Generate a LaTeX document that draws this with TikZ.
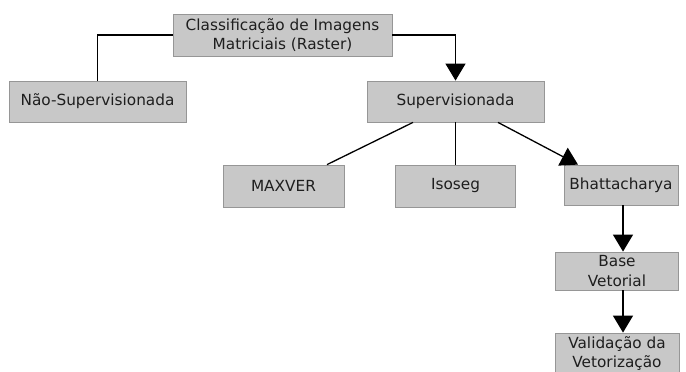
\documentclass[tikz,border=0pt]{standalone}
\usepackage{fontspec}
\setmainfont{DejaVu Sans}
\usetikzlibrary{arrows.meta}
\definecolor{boxfill}{RGB}{200,200,200}
\definecolor{boxline}{RGB}{150,150,150}
\definecolor{txt}{RGB}{30,30,30}
\tikzset{
  box/.style={fill=boxfill, draw=boxline, line width=0.8pt, inner sep=0pt,
    text=txt, align=center, font=\fontsize{15.3}{19.5}\selectfont},
  link/.style={line width=1.3pt, draw=black},
  arr/.style={link, -{Triangle[width=20pt,length=17pt]}}
}
\begin{document}
\begin{tikzpicture}[x=1pt,y=-1pt]
\useasboundingbox (0,0) rectangle (686,372);
\clip (0,0) rectangle (686,372);
\node[box, minimum width=219pt, minimum height=42pt] (top) at (282.5,35) {Classificação de Imagens\\Matriciais (Raster)};
\node[box, minimum width=177pt, minimum height=41pt] (nao) at (97.5,101.5) {Não-Supervisionada};
\node[box, minimum width=177pt, minimum height=41pt] (sup) at (455.5,101.5) {Supervisionada};
\node[box, minimum width=121pt, minimum height=42pt] (maxver) at (283.5,186) {MAXVER};
\node[box, minimum width=120pt, minimum height=42pt] (iso) at (455.5,186) {Isoseg};
\node[box, minimum width=114pt, minimum height=40pt] (bh) at (621,185) {Bhattacharya};
\node[box, minimum width=123pt, minimum height=38pt] (base) at (617,271) {Base\\Vetorial};
\node[box, minimum width=124pt, minimum height=42pt, font=\fontsize{15.3}{19}\selectfont] (val) at (617,354) {Validação da\\Vetorização};
\draw[link] (top.west) -| (nao.north);
\draw[arr] (top.east) -| (sup.north);
\draw[link] ([xshift=-42.5pt]sup.south) -- ([xshift=43.5pt]maxver.north);
\draw[link] (sup.south) -- (iso.north);
\draw[arr] ([xshift=42.5pt]sup.south) -- ([xshift=-43pt]bh.north);
\draw[arr] ([xshift=2pt]bh.south) -- ([xshift=2pt]bh.south |- base.north);
\draw[arr] ([xshift=2pt]bh.south |- base.south) -- ([xshift=2pt]bh.south |- val.north);
\end{tikzpicture}
\end{document}
